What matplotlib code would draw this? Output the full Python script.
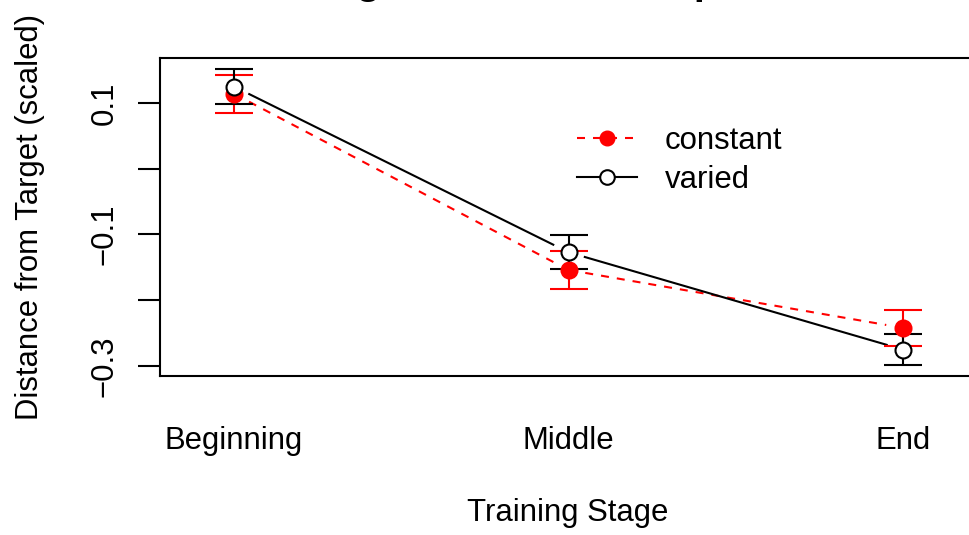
import matplotlib
matplotlib.use("Agg")
import matplotlib.pyplot as plt
import numpy as np

plt.rcParams['font.family'] = ['Liberation Sans', 'DejaVu Sans']

stages = ["Beginning", "Middle", "End"]
const_mean = [0.114, -0.154, -0.242]
const_se = [0.029, 0.029, 0.027]
varied_mean = [0.125, -0.127, -0.275]
varied_se = [0.026, 0.026, 0.024]
yticks = [-0.3, -0.2, -0.1, 0.0, 0.1]
ytick_labels = ["\u22120.3", "", "\u22120.1", "", "0.1"]
title = "Target Distance Comparison"

W, H = 969, 535
fig = plt.figure(figsize=(W / 100, H / 100), dpi=100)
ax = fig.add_axes([160 / W, 1 - 376 / H, (977 - 160) / W, (376 - 58) / H])
x = np.arange(1, len(stages) + 1)
ax.set_xlim(0.7788, 3.2212)
ax.set_ylim(-0.3152, 0.1684)

lw = 1.5
FS = 22.4

def gapped_line(xs, ys, color, ls, gap=17):
    pts = ax.transData.transform(np.column_stack([xs, ys]))
    inv = ax.transData.inverted()
    for i in range(len(pts) - 1):
        p0, p1 = pts[i], pts[i + 1]
        d = p1 - p0
        L = np.hypot(*d)
        u = d / L
        a = inv.transform(p0 + u * gap)
        b = inv.transform(p1 - u * gap)
        ax.plot([a[0], b[0]], [a[1], b[1]], color=color, lw=lw, linestyle=ls, zorder=2)

dash = (0, (3.84, 3.84))
gapped_line(x, const_mean, 'red', dash)
gapped_line(x, varied_mean, 'black', '-')

ax.errorbar(x, const_mean, yerr=const_se, fmt='none', ecolor='red', elinewidth=lw,
            capsize=14, capthick=lw, zorder=2)
ax.errorbar(x, varied_mean, yerr=varied_se, fmt='none', ecolor='black', elinewidth=lw,
            capsize=14, capthick=lw, zorder=2)

ax.plot(x, const_mean, linestyle='none', marker='o', ms=11.5, mfc='red', mec='red',
        mew=lw, zorder=3)
ax.plot(x, varied_mean, linestyle='none', marker='o', ms=11.5, mfc='white', mec='black',
        mew=lw, zorder=3)

# legend handles
h1, = ax.plot([], [], color='red', lw=lw, linestyle=dash, marker='o', ms=10.5,
              mfc='red', mec='red')
h2, = ax.plot([], [], color='black', lw=lw, linestyle='-', marker='o', ms=10.5,
              mfc='white', mec='black', mew=lw)
fig.legend([h1, h2], ["constant", "varied"], loc='upper left',
           bbox_to_anchor=(577 / W, 1 - 126 / H), frameon=False, fontsize=FS,
           handlelength=1.93, handletextpad=0.88, labelspacing=0.3,
           borderpad=0, borderaxespad=0, numpoints=1)

ax.set_xticks(x)
ax.set_xticklabels(stages, fontsize=FS)
ax.tick_params(axis='x', length=0, pad=36)
ax.set_yticks(yticks)
ax.set_yticklabels(ytick_labels, fontsize=FS, rotation=90, va='center')
ax.tick_params(axis='y', length=16, width=lw, pad=13)
for s in ax.spines.values():
    s.set_linewidth(lw)

fig.text(568 / W, 1 - 513 / H, "Training Stage", fontsize=FS, ha='center', va='center')
fig.text(30 / W, 1 - 217 / H, "Distance from Target (scaled)", fontsize=FS,
         ha='center', va='center', rotation=90)
fig.text(568 / W, 1 + 6.5 / H, title, fontsize=28.8, fontweight='bold',
         ha='center', va='baseline')

fig.savefig("out.png", dpi=100)
